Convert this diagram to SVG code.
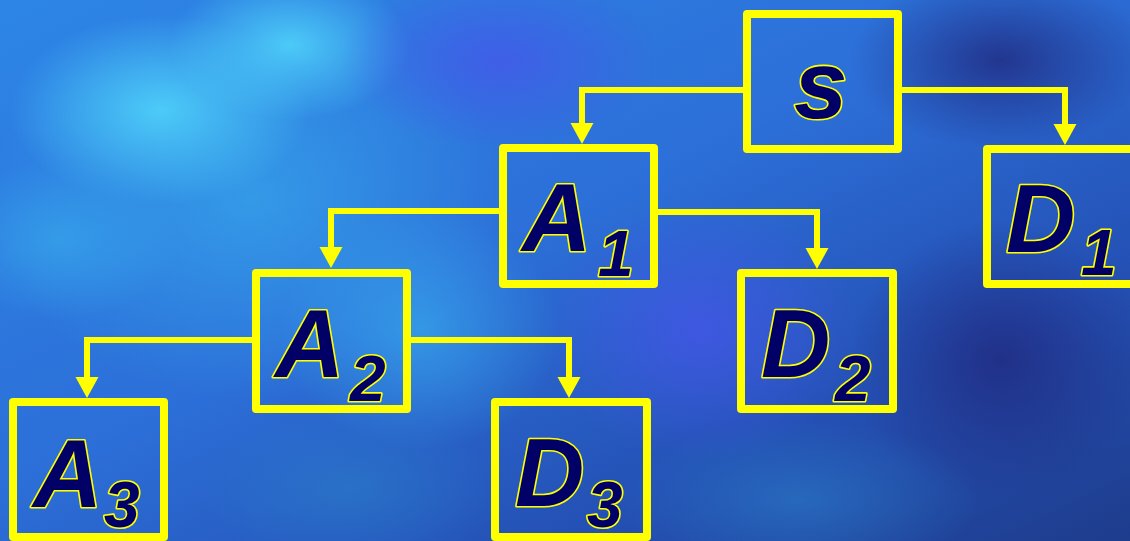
<svg xmlns="http://www.w3.org/2000/svg" width="1130" height="541" viewBox="0 0 1130 541">
<defs>
<linearGradient id="bg" x1="0" y1="0" x2="1" y2="1">
<stop offset="0" stop-color="#2d86e6"/>
<stop offset="0.45" stop-color="#2c6fd8"/>
<stop offset="0.75" stop-color="#2450b4"/>
<stop offset="1" stop-color="#1e3c8c"/>
</linearGradient>
<radialGradient id="cyan"><stop offset="0" stop-color="#4fd2fa" stop-opacity="0.9"/><stop offset="1" stop-color="#4fd2fa" stop-opacity="0"/></radialGradient>
<radialGradient id="lblue"><stop offset="0" stop-color="#36a2ea" stop-opacity="0.8"/><stop offset="1" stop-color="#36a2ea" stop-opacity="0"/></radialGradient>
<radialGradient id="purp"><stop offset="0" stop-color="#4656ea" stop-opacity="0.75"/><stop offset="1" stop-color="#4656ea" stop-opacity="0"/></radialGradient>
<radialGradient id="dark"><stop offset="0" stop-color="#20297e" stop-opacity="0.8"/><stop offset="1" stop-color="#20297e" stop-opacity="0"/></radialGradient>
<radialGradient id="teal"><stop offset="0" stop-color="#2a7cc8" stop-opacity="0.6"/><stop offset="1" stop-color="#2a7cc8" stop-opacity="0"/></radialGradient>
<marker id="ah" markerUnits="userSpaceOnUse" markerWidth="22" markerHeight="24" viewBox="0 -12 22 24" refX="0" refY="0" orient="auto">
<path d="M0,-11.5 L21,0 L0,11.5 Z" fill="#ffff00"/>
</marker>
<style>
.box{fill:none;stroke:#ffff00;stroke-width:8;stroke-linejoin:round}
.con{fill:none;stroke:#ffff00;stroke-width:6;stroke-linejoin:miter;marker-end:url(#ah)}
.big{font-family:"Liberation Sans",Arial,sans-serif;font-weight:bold;font-style:italic;font-size:96px;fill:#000066;stroke:#ffff00;stroke-width:3.2;stroke-linejoin:round;paint-order:stroke}
.sub{font-family:"Liberation Sans",Arial,sans-serif;font-weight:bold;font-style:italic;font-size:64px;fill:#000066;stroke:#ffff00;stroke-width:3.2;stroke-linejoin:round;paint-order:stroke}
</style>
</defs>
<rect width="1130" height="541" fill="url(#bg)"/>
<ellipse cx="250" cy="200" rx="260" ry="200" fill="url(#lblue)"/>
<ellipse cx="160" cy="110" rx="150" ry="95" fill="url(#cyan)"/>
<ellipse cx="290" cy="45" rx="120" ry="75" fill="url(#cyan)"/>
<ellipse cx="60" cy="240" rx="120" ry="80" fill="url(#lblue)"/>
<ellipse cx="500" cy="60" rx="160" ry="90" fill="url(#purp)"/>
<ellipse cx="700" cy="330" rx="160" ry="130" fill="url(#purp)"/>
<ellipse cx="420" cy="330" rx="140" ry="120" fill="url(#lblue)"/>
<ellipse cx="350" cy="490" rx="150" ry="80" fill="url(#teal)"/>
<ellipse cx="1000" cy="360" rx="150" ry="140" fill="url(#dark)"/>
<ellipse cx="1000" cy="60" rx="150" ry="90" fill="url(#dark)"/>
<ellipse cx="800" cy="500" rx="180" ry="80" fill="url(#teal)"/>

<g id="connectors">
<polyline class="con" points="743,90 582,90 582,123"/>
<polyline class="con" points="902,90 1065,90 1065,124"/>
<polyline class="con" points="499,211 331,211 331,247"/>
<polyline class="con" points="658,212 817,212 817,248"/>
<polyline class="con" points="252,340 87,340 87,377"/>
<polyline class="con" points="411,340 569,340 569,377"/>
</g>

<g id="node-s">
<rect class="box" x="747" y="14" width="151" height="135"/>
<text class="big" x="794" y="118">s</text>
</g>
<g id="node-A1">
<rect class="box" x="503" y="148" width="151" height="136"/>
<text class="big" x="522" y="251">A</text>
<text class="sub" x="598" y="276">1</text>
</g>
<g id="node-D1">
<rect class="box" x="987" y="149" width="151" height="135"/>
<text class="big" x="1006" y="252">D</text>
<text class="sub" x="1081" y="275">1</text>
</g>
<g id="node-A2">
<rect class="box" x="256" y="273" width="151" height="136"/>
<text class="big" x="275" y="377">A</text>
<text class="sub" x="350" y="401">2</text>
</g>
<g id="node-D2">
<rect class="box" x="741" y="273" width="152" height="136"/>
<text class="big" x="761" y="377">D</text>
<text class="sub" x="835" y="401">2</text>
</g>
<g id="node-A3">
<rect class="box" x="13" y="402" width="151" height="135"/>
<text class="big" x="33" y="507">A</text>
<text class="sub" x="104" y="527">3</text>
</g>
<g id="node-D3">
<rect class="box" x="495" y="402" width="152" height="135"/>
<text class="big" x="515" y="506">D</text>
<text class="sub" x="587" y="527">3</text>
</g>
</svg>
